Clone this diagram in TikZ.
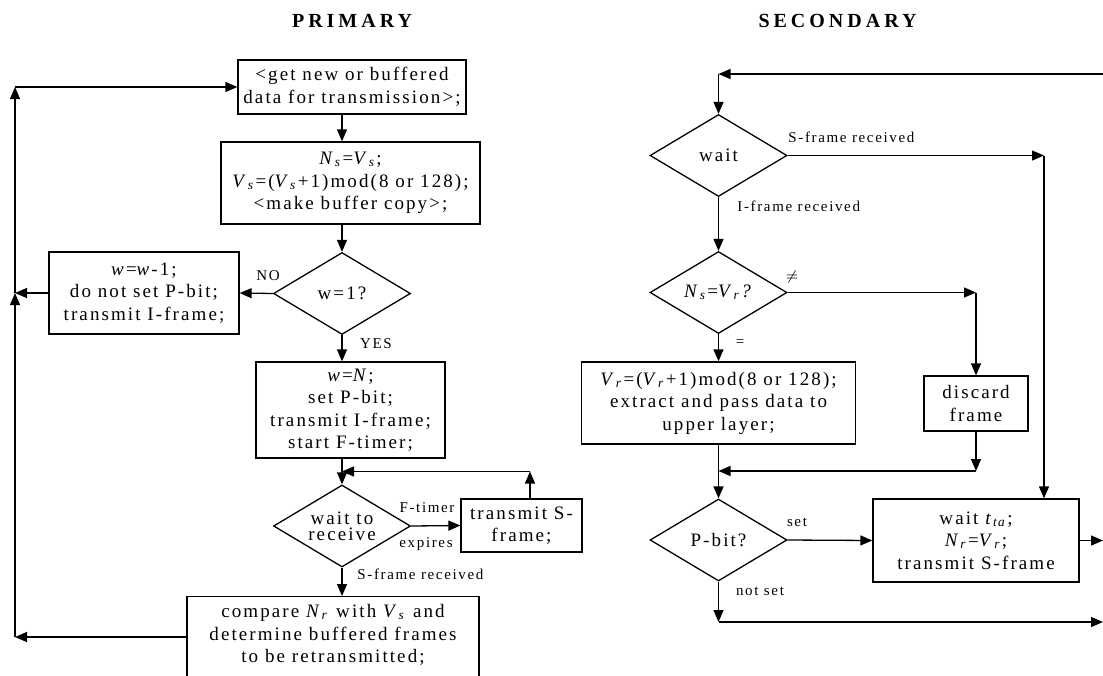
\documentclass[tikz,border=0pt]{standalone}
\usepackage{fontspec}
\setmainfont{Liberation Serif}[LetterSpace=11]
\usetikzlibrary{shapes.geometric,arrows.meta}

\newcommand{\vsub}[2]{\textit{#1}\textsubscript{\textit{#2}}}

\tikzset{
    arr/.style={-{Triangle[length=6pt,width=5pt]},line width=0.65pt},
    box/.style={draw,line width=0.65pt,align=center,inner sep=1pt,font=\fontsize{9.5}{11.25}\selectfont},
    dec/.style={diamond,draw,line width=0.65pt,aspect=1.67,inner sep=0pt,minimum width=68.5pt,minimum height=41pt,align=center,font=\fontsize{9.5}{11.25}\selectfont},
    lbl/.style={font=\fontsize{7.5}{9}\selectfont,inner sep=0pt},
    ttl/.style={font=\fontsize{10}{12}\selectfont\bfseries\addfontfeature{LetterSpace=20}}
}

\begin{document}
\begin{tikzpicture}[x=0.5pt,y=-0.5pt]
            % \draw[help lines] grid(1103,675);

            \useasboundingbox (0,0) rectangle (1103,675);
            \fill[white] (0,0) rectangle (1103,675);

            \node[ttl] (ttlprim) at (352,21) {PRIMARY};
            \node[ttl] (ttlsec) at (837.5,21) {SECONDARY};

            % primary
            \node[box,minimum width=114pt,minimum height=27pt] (getdata) at (352,87) {<get new or buffered\\data for transmission>;};
            \node[box,minimum width=129.5pt,minimum height=41pt] (seqno) at (350.5,183) {\vsub{N}{s}=\vsub{V}{s};\\\vsub{V}{s}=(\vsub{V}{s}+1)mod(8 or 128);\\<make buffer copy>;};
            \node[dec] (wone) at (342,293.5) {w=1?};
            \node[box,minimum width=95pt,minimum height=41pt] (wdec) at (144,293) {\textit{w}=\textit{w}-1;\\do not set P-bit;\\transmit I-frame;};
            \node[box,minimum width=94.5pt,minimum height=48pt] (wset) at (350.5,410) {\textit{w}=\textit{N};\\set P-bit;\\transmit I-frame;\\start F-timer;};
            \node[dec,font=\fontsize{9.5}{8}\selectfont] (waitrx) at (342,526) {wait to\\receive};
            \node[box,minimum width=60.5pt,minimum height=26.5pt] (txs) at (521.5,525.5) {transmit S-\\frame;};
            \node[box,anchor=north,minimum width=146pt,inner ysep=4pt,text depth=6pt] (cmp) at (333,596) {compare \vsub{N}{r} with \vsub{V}{s} and\\determine buffered frames\\to be retransmitted;};

            \node[lbl] (lno) at (268,276) {NO};
            \node[lbl] (lyes) at (376,344) {YES};
            \node[lbl] (lftimer) at (427,508) {F-timer};
            \node[lbl] (lexp) at (426,544) {expires};
            \node[lbl,anchor=west] (lsrx) at (357,574) {S-frame received};

            \coordinate (ltop) at (15,87);
            \coordinate (lbot) at (15,637);
            \coordinate (txup) at (530,471.5);

            \draw[arr] (getdata.south -| wone) -- (seqno.north -| wone);
            \draw[arr] (seqno.south -| wone) -- (wone.north);
            \draw[arr] (wone.west) -- (wdec.east);
            \draw[arr] (wone.south) -- (wset.north -| wone);
            \draw[arr] (wset.south -| waitrx) -- (waitrx.north);
            \draw[arr] (waitrx.east) -- (txs.west);
            \draw[arr] (txs.north -| txup) -- (txup);
            \draw[arr] (txup) -- (txup -| waitrx);
            \draw[arr] (waitrx.south) -- (cmp.north -| waitrx);
            \draw[arr] (cmp.west |- lbot) -- (lbot);
            \draw[arr] (lbot) -- (wdec.west -| ltop);
            \draw[arr] (wdec.west) -- (wdec.west -| ltop);
            \draw[arr] (wdec.west -| ltop) -- (ltop);
            \draw[arr] (ltop) -- (getdata.west);

            % secondary
            \node[dec] (waitr) at (718.5,155.5) {wait};
            \node[dec] (nsvr) at (718.5,292.5) {\vsub{N}{s}=\vsub{V}{r}\textit{?}};
            \node[box,minimum width=137pt,minimum height=41pt] (vrinc) at (718.5,403) {\vsub{V}{r}=(\vsub{V}{r}+1)mod(8 or 128);\\extract and pass data to\\upper layer;};
            \node[box,minimum width=52pt,minimum height=27.5pt] (discard) at (976,403.5) {discard\\frame};
            \node[dec] (pbit) at (718.5,540) {P-bit?};
            \node[box,minimum width=103pt,minimum height=41.5pt] (waitta) at (976,540.5) {wait \vsub{t}{ta};\\\vsub{N}{r}=\vsub{V}{r};\\transmit S-frame};

            \node[lbl,anchor=west] (lsfr) at (788,137) {S-frame received};
            \node[lbl,anchor=west] (lifr) at (737,206) {I-frame received};
            \node[lbl] (lneq) at (792,277) {$\neq$};
            \node[lbl] (leq) at (740,343) {=};
            \node[lbl] (lset) at (797,522) {set};
            \node[lbl] (lnset) at (760,591) {not set};

            \coordinate (rtop) at (718.5,74);
            \coordinate (redgetop) at (1103,74);
            \coordinate (sfr) at (1044,155.5);
            \coordinate (neq) at (976,292.5);
            \coordinate (dj) at (976,471);
            \coordinate (nsj) at (718.5,622);
            \coordinate (redgemid) at (1103,540.5);
            \coordinate (redgebot) at (1103,622);

            \draw[arr] (redgetop) -- (rtop);
            \draw[arr] (rtop) -- (waitr.north);
            \draw[arr] (waitr.east) -- (sfr);
            \draw[arr] (sfr) -- (sfr |- waitta.north);
            \draw[arr] (waitr.south) -- (nsvr.north);
            \draw[arr] (nsvr.east) -- (neq);
            \draw[arr] (neq) -- (discard.north);
            \draw[arr] (nsvr.south) -- (vrinc.north);
            \draw[arr] (discard.south) -- (dj);
            \draw[arr] (dj) -- (dj -| vrinc);
            \draw[arr] (vrinc.south) -- (pbit.north);
            \draw[arr] (pbit.east) -- (waitta.west);
            \draw[arr] (waitta.east) -- (redgemid);
            \draw[arr] (pbit.south) -- (nsj);
            \draw[arr] (nsj) -- (redgebot);
\end{tikzpicture}
\end{document}
